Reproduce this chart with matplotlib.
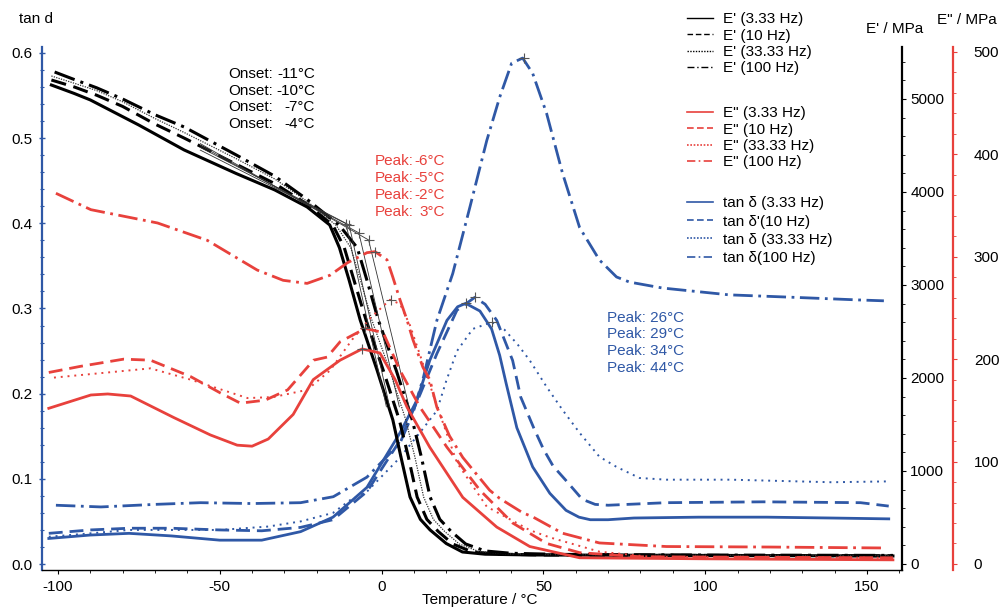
import matplotlib
matplotlib.use("Agg")
import matplotlib.pyplot as plt
from matplotlib.lines import Line2D
from matplotlib.ticker import MultipleLocator, FormatStrFormatter

plt.rcParams['font.family'] = ['Liberation Sans', 'DejaVu Sans']
plt.rcParams['axes.unicode_minus'] = False

RED = '#e8413c'
BLUE = '#2f58a6'
FS = 11

# ---- E' (MPa), black ----
ep_T_333 = [-102, -95, -90, -85, -75, -61, -45, -33, -23, -16, -13, -10, -6.6, -1.4, 3.5, 6, 8.8, 12, 15, 20, 25, 32, 46, 100, 158]
ep_333 = [5150, 5060, 4990, 4900, 4720, 4452, 4200, 4022, 3839, 3645, 3400, 3050, 2624, 2086, 1548, 1150, 720, 480, 366, 220, 129, 105, 97, 92, 86]
ep_T_10 = [-102, -95, -88, -80, -70, -61, -45, -33, -23, -15, -11.5, -8.5, -4.8, 0.5, 5.5, 8.3, 11, 14, 17.5, 22, 28, 36, 50, 100, 158]
ep_10 = [5204, 5130, 5040, 4920, 4730, 4580, 4300, 4090, 3870, 3640, 3400, 3050, 2624, 2086, 1548, 1150, 720, 480, 350, 215, 130, 106, 97, 92, 88]
ep_T_33 = [-102, -95, -88, -80, -70, -61, -45, -33, -23, -14, -9.5, -6.5, -3, 2.5, 7.5, 10.3, 13, 16, 19.5, 24, 30, 38, 52, 100, 158]
ep_33 = [5247, 5170, 5090, 4970, 4790, 4640, 4360, 4140, 3900, 3640, 3400, 3050, 2624, 2086, 1548, 1150, 720, 480, 350, 215, 135, 110, 100, 94, 90]
ep_T_100 = [-101, -95, -88, -80, -70, -61, -45, -33, -23, -13, -7.5, -4.5, -1, 4.5, 9.5, 12.3, 15, 18, 21.5, 26, 32, 40, 55, 100, 158]
ep_100 = [5290, 5210, 5120, 5000, 4830, 4699, 4400, 4170, 3920, 3640, 3400, 3050, 2624, 2086, 1548, 1150, 720, 480, 350, 215, 140, 115, 103, 96, 92]

# onset construction (tangent corners)
onset_T = [-11, -10, -7, -4]
onset_E = [3660, 3645, 3560, 3484]
tangent_start_T = -56
tangent_start_E = [4450, 4480, 4500, 4520]
tangent_end_dT = 12.5
tangent_end_E = 1690
onset_labels = ['-11°C', '-10°C', '-7°C', '-4°C']

# ---- E'' (MPa), red ----
epp_T_333 = [-102.8, -89.8, -84.6, -77.5, -64.2, -52.9, -44.6, -40, -35, -27.3, -21.1, -12.8, -6, -0.5, 4.2, 7.9, 14.9, 25.1, 35.6, 45.8, 61.2, 100, 158]
epp_333 = [152, 165, 166, 164, 143, 126, 116, 115, 122, 146, 180, 199, 210, 206, 180, 153, 114, 65, 36, 17, 6, 5, 4]
epp_T_10 = [-102.8, -93, -79.7, -71.4, -59, -49.8, -43.6, -35.9, -29, -21, -16.8, -12.8, -5, 0.5, 5.7, 11.9, 20.2, 30.4, 40.5, 51, 61.2, 80, 158]
epp_10 = [187, 193, 200, 199, 183, 167, 157, 160, 170, 199, 202, 217, 230, 226, 189, 153, 114, 72, 40, 20, 11, 7, 6]
epp_T_33 = [-101.2, -84.6, -71.4, -59, -41.4, -33.4, -23, -15.9, -9.1, -3.5, 2.6, 5.7, 8.8, 11.9, 16.5, 23.3, 32.5, 45.8, 51.9, 67.3, 83, 158]
epp_33 = [182, 187, 191, 180, 162, 163, 170, 189, 219, 240, 258, 254, 233, 204, 160, 99, 56, 33, 26, 12, 7, 6]
epp_T_100 = [-100.6, -89.8, -69.2, -53.8, -38.4, -30.4, -23, -15.9, -10.6, -4.5, -2, 1.7, 3.5, 5.7, 7.9, 9.7, 12.8, 14.9, 17.1, 21, 25.1, 33.4, 36.5, 43.6, 46.7, 55.9, 67.3, 88, 120, 154.6]
epp_100 = [362, 346, 333, 316, 287, 277, 274, 282, 294, 304, 305, 297, 280, 258, 238, 219, 192, 180, 153, 125, 104, 72, 64, 50, 46, 30, 20.5, 17, 16.5, 15.6]
epp_peak_T = [-6, -5, 3, -2]
epp_peak = [210, 230, 258, 305]
epp_labels = ['-6°C', '-5°C', '-2°C', '3°C']

# ---- tan delta, blue ----
tan_T_333 = [-102.8, -90, -78, -65, -50, -37, -25, -15, -4.5, 5.7, 10.9, 14.9, 20.2, 23.5, 26, 30.4, 34, 36.5, 38.5, 41.8, 46.7, 52, 57, 61, 64.5, 70, 78, 98, 119, 139, 156.7]
tan_333 = [0.030, 0.034, 0.036, 0.033, 0.028, 0.028, 0.038, 0.055, 0.090, 0.154, 0.192, 0.239, 0.286, 0.302, 0.306, 0.297, 0.276, 0.245, 0.212, 0.160, 0.114, 0.083, 0.063, 0.055, 0.052, 0.052, 0.054, 0.055, 0.055, 0.054, 0.053]
tan_T_10 = [-102.8, -90, -78, -65, -50, -37, -25, -15, -4.5, 5.7, 12, 17.1, 23.3, 28.8, 32, 35.6, 40.5, 43, 47, 50, 53, 57, 62, 66, 70, 88, 118, 148, 156.7]
tan_10 = [0.036, 0.040, 0.042, 0.042, 0.040, 0.039, 0.043, 0.052, 0.085, 0.145, 0.200, 0.247, 0.298, 0.313, 0.305, 0.286, 0.239, 0.196, 0.160, 0.135, 0.115, 0.098, 0.076, 0.070, 0.069, 0.072, 0.073, 0.072, 0.068]
tan_T_33 = [-102.8, -90, -78, -65, -50, -35, -25, -15, -9.7, -4.5, 5.7, 12, 17.1, 20, 23.3, 28.2, 34.1, 38, 42, 45.8, 51, 55.9, 61.2, 67.3, 72.6, 79.7, 88, 108, 139, 156.7]
tan_33 = [0.032, 0.036, 0.040, 0.040, 0.040, 0.044, 0.050, 0.060, 0.075, 0.085, 0.125, 0.155, 0.180, 0.215, 0.250, 0.276, 0.284, 0.275, 0.258, 0.239, 0.208, 0.181, 0.154, 0.126, 0.114, 0.101, 0.099, 0.099, 0.096, 0.097]
tan_T_100 = [-100.6, -86.7, -70, -55.9, -40, -25, -14.9, -4.5, 5.7, 9.7, 13, 17.1, 22, 27.3, 32.5, 36.5, 40.2, 43.6, 46.7, 51, 55.9, 61.2, 67.3, 72.6, 76.6, 86.8, 107.4, 128, 147.5, 155.2]
tan_100 = [0.069, 0.067, 0.070, 0.072, 0.071, 0.072, 0.079, 0.102, 0.142, 0.177, 0.220, 0.286, 0.341, 0.419, 0.497, 0.548, 0.588, 0.594, 0.576, 0.529, 0.459, 0.395, 0.357, 0.337, 0.331, 0.324, 0.316, 0.313, 0.310, 0.309]
tan_peak_T = [26, 29, 34, 44]
tan_peak = [0.306, 0.313, 0.284, 0.594]
tan_labels = ['26°C', '29°C', '34°C', '44°C']

freqs = ['3.33 Hz', '10 Hz', '33.33 Hz', '100 Hz']

LS_DASH = (0, (5, 2.5))
LS_DOT = (0, (1, 2.5))
LS_DASHDOT = (0, (7, 2, 1, 2))

fig = plt.figure(figsize=(10, 6.07), dpi=100)
ax = fig.add_axes([0.042, 0.061, 0.86, 0.8616])
ax2 = ax.twinx()
ax3 = ax.twinx()

# E'
ax2.plot(ep_T_333, ep_333, color='black', lw=2.2, ls='-')
ax2.plot(ep_T_10, ep_10, color='black', lw=2.2, ls=LS_DASH)
ax2.plot(ep_T_33, ep_33, color='#333333', lw=0.9, ls=(0, (1, 1)))
ax2.plot(ep_T_100, ep_100, color='black', lw=2.2, ls=LS_DASHDOT)
for t0, e0, es in zip(onset_T, onset_E, tangent_start_E):
    ax2.plot([tangent_start_T, t0, t0 + tangent_end_dT], [es, e0, tangent_end_E],
             color='#333333', lw=0.6)
ax2.plot(onset_T, onset_E, ls='none', marker='+', ms=7, mew=0.8, color='#555555')

# E''
ax3.plot(epp_T_333, epp_333, color=RED, lw=2.0, ls='-')
ax3.plot(epp_T_10, epp_10, color=RED, lw=2.0, ls=LS_DASH)
ax3.plot(epp_T_33, epp_33, color=RED, lw=1.4, ls=LS_DOT)
ax3.plot(epp_T_100, epp_100, color=RED, lw=2.0, ls=LS_DASHDOT)
ax3.plot(epp_peak_T, epp_peak, ls='none', marker='+', ms=7, mew=0.8, color='#555555')

# tan delta
ax.plot(tan_T_333, tan_333, color=BLUE, lw=2.0, ls='-')
ax.plot(tan_T_10, tan_10, color=BLUE, lw=2.0, ls=LS_DASH)
ax.plot(tan_T_33, tan_33, color=BLUE, lw=1.4, ls=LS_DOT)
ax.plot(tan_T_100, tan_100, color=BLUE, lw=2.0, ls=LS_DASHDOT)
ax.plot(tan_peak_T, tan_peak, ls='none', marker='+', ms=7, mew=0.8, color='#555555')

# limits and ticks
ax.set_xlim(-104.9, 160.8)
ax.set_ylim(-0.007, 0.607)
ax2.set_ylim(-64.5, 5559)
ax3.set_ylim(-5.9, 504.9)

ax.xaxis.set_major_locator(MultipleLocator(50))
ax.xaxis.set_minor_locator(MultipleLocator(10))
ax.yaxis.set_major_locator(MultipleLocator(0.1))
ax.yaxis.set_minor_locator(MultipleLocator(0.02))
ax.yaxis.set_major_formatter(FormatStrFormatter('%.1f'))
ax2.yaxis.set_major_locator(MultipleLocator(1000))
ax2.yaxis.set_minor_locator(MultipleLocator(200))
ax3.yaxis.set_major_locator(MultipleLocator(100))
ax3.yaxis.set_minor_locator(MultipleLocator(20))

for s in ['top', 'right']:
    ax.spines[s].set_visible(False)
ax.spines['left'].set_color(BLUE)
ax.spines['left'].set_linewidth(1.6)
ax.spines['bottom'].set_linewidth(1.0)
for a in (ax2, ax3):
    for s in ['top', 'left', 'bottom']:
        a.spines[s].set_visible(False)
ax2.spines['right'].set_linewidth(1.6)
ax3.spines['right'].set_position(('axes', 1.0593))
ax3.spines['right'].set_color(RED)
ax3.spines['right'].set_linewidth(1.6)

ax.tick_params(axis='y', which='both', direction='inout', colors=BLUE, labelcolor='black', labelsize=FS, pad=4)
ax.tick_params(axis='y', which='major', length=5, width=1)
ax.tick_params(axis='y', which='minor', length=3, width=0.8)
ax.tick_params(axis='x', which='major', direction='out', length=3, width=0.8, labelsize=FS, pad=4)
ax.tick_params(axis='x', which='minor', direction='out', length=2, width=0.6)
ax2.tick_params(axis='y', which='major', direction='out', length=3, width=0.8, labelsize=FS, pad=3)
ax2.tick_params(axis='y', which='minor', direction='out', length=2, width=0.6)
ax3.tick_params(axis='y', which='both', direction='out', colors=RED, labelcolor='black', labelsize=FS, pad=12)
ax3.tick_params(axis='y', which='major', length=3, width=0.8)
ax3.tick_params(axis='y', which='minor', length=2, width=0.6)

# axis titles
fig.text(0.036, 1 - 19 / 607, 'tan d', ha='center', va='center', fontsize=FS)
fig.text(0.895, 1 - 29 / 607, "E' / MPa", ha='center', va='center', fontsize=FS)
fig.text(0.967, 1 - 20 / 607, 'E" / MPa', ha='center', va='center', fontsize=FS)
fig.text(0.480, 1 - 600 / 607, 'Temperature / °C', ha='center', va='center', fontsize=FS)

# annotation blocks
for i in range(4):
    y = 1 - (74 + 16.7 * i) / 607
    fig.text(0.228, y, 'Onset:', ha='left', va='center', fontsize=FS)
    fig.text(0.315, y, onset_labels[i], ha='right', va='center', fontsize=FS)
    y = 1 - (161 + 17 * i) / 607
    fig.text(0.375, y, 'Peak:', ha='left', va='center', fontsize=FS, color=RED)
    fig.text(0.445, y, epp_labels[i], ha='right', va='center', fontsize=FS, color=RED)
    y = 1 - (318 + 16.5 * i) / 607
    fig.text(0.607, y, 'Peak: ' + tan_labels[i], ha='left', va='center', fontsize=FS, color=BLUE)

# legend blocks
def proxies(color, widths):
    styles = ['-', (0, (4, 2)), (0, (1, 1)), (0, (5, 2, 1, 2))]
    return [Line2D([], [], color=color, lw=w, ls=s) for w, s in zip(widths, styles)]

groups = [
    (proxies('black', [1.0, 1.0, 1.0, 1.0]), ["E' (" + f + ")" for f in freqs], 19, 0.15),
    (proxies(RED, [1.2, 1.2, 1.2, 1.2]), ['E" (' + f + ')' for f in freqs], 113, 0.15),
    (proxies(BLUE, [1.2, 1.2, 1.2, 1.2]),
     ['tan δ (3.33 Hz)', "tan δ'(10 Hz)", 'tan δ (33.33 Hz)', 'tan δ(100 Hz)'], 203, 0.27),
]
for handles, labels, ycen, spacing in groups:
    fig.legend(handles, labels, loc='upper left', bbox_to_anchor=(0.687, 1 - (ycen - 6.5) / 607),
               frameon=False, borderpad=0, borderaxespad=0, handlelength=1.7,
               handletextpad=0.65, labelspacing=spacing, fontsize=FS)

fig.savefig('out.png', dpi=100)
